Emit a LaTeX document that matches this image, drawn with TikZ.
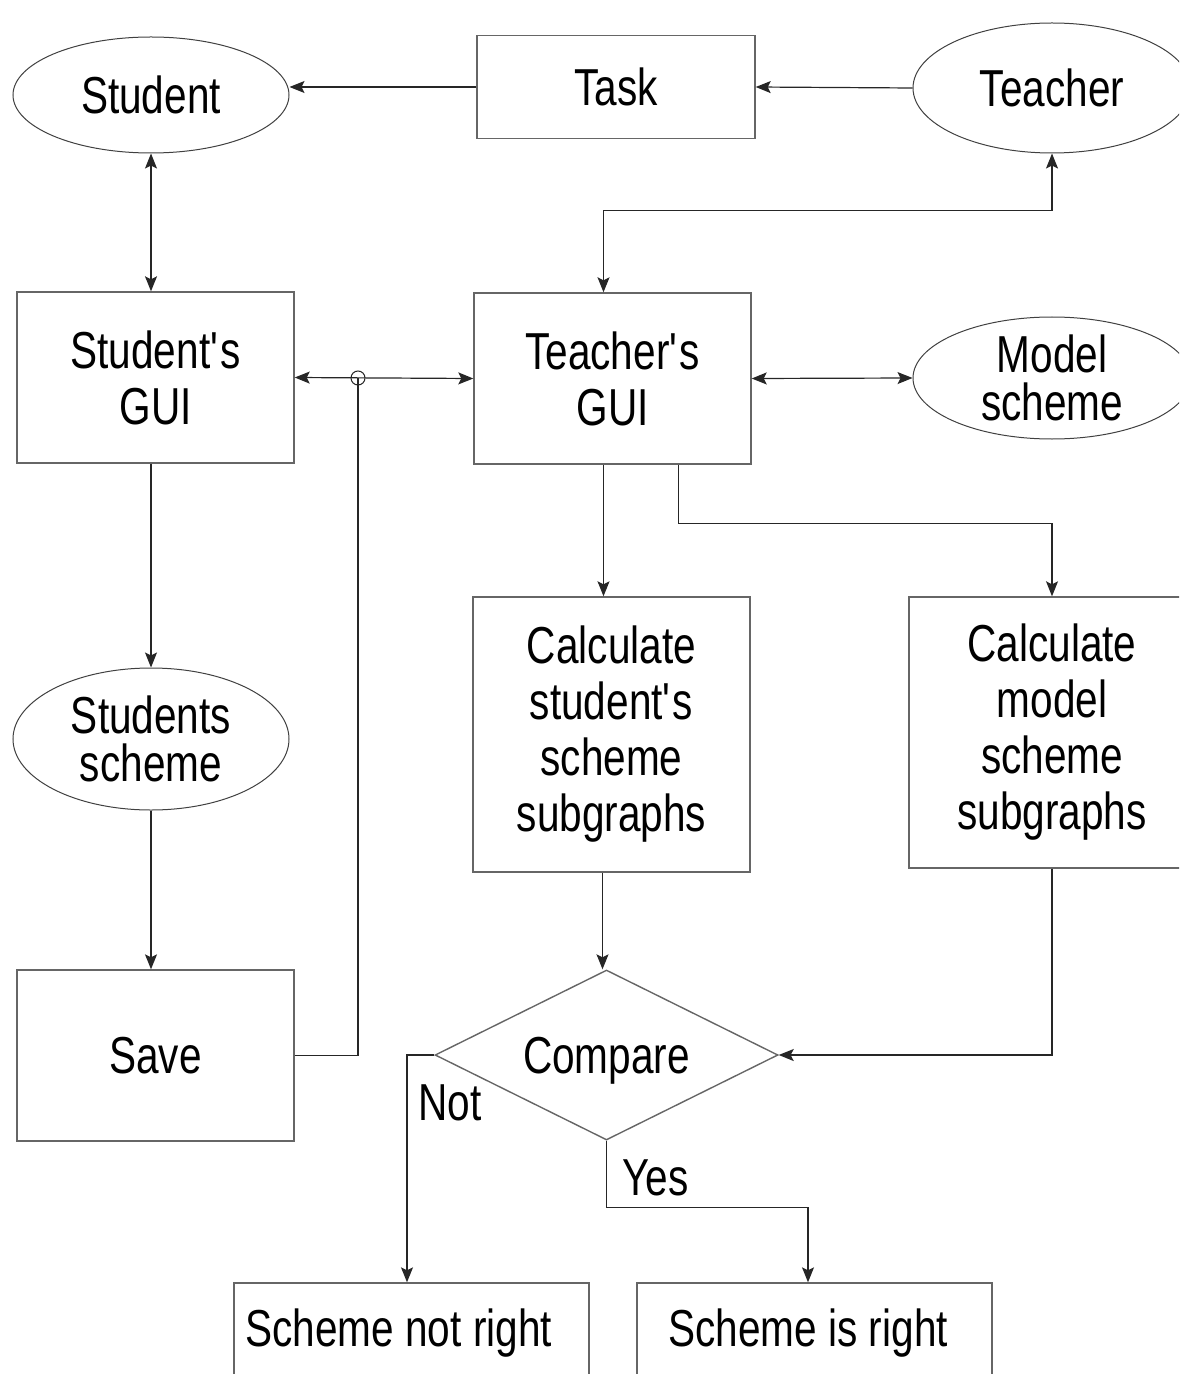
\documentclass[tikz,border=0pt]{standalone}
\usepackage{fontspec}
\setmainfont[FakeStretch=0.78]{Liberation Sans}
\usetikzlibrary{arrows.meta,shapes.geometric}

\begin{document}
\begin{tikzpicture}[x=0.5pt,y=-0.5pt,
		>={Stealth[length=7.5pt,width=6pt,inset=1.5pt]},
		every node/.style={font=\fontsize{26}{28}\selectfont, align=center, inner sep=0pt},
		box/.style={draw=black!60, line width=0.7pt},
		oval/.style={draw=black!75, ellipse, line width=0.5pt, font=\fontsize{26}{24}\selectfont},
		line/.style={draw=black!85, line width=0.6pt},
		arr/.style={line, ->},
		both/.style={line, <->}]
	
		\useasboundingbox (0,0) rectangle (1179,1374);
		\clip (0,0) rectangle (1179,1374);
	
		\node[oval, minimum width=138pt, minimum height=58pt] (stud) at (151,95) {Student};
		\node[box, minimum width=139pt, minimum height=51.5pt] (task) at (616,87) {Task};
		\node[oval, minimum width=139pt, minimum height=65pt] (teach) at (1052,88) {Teacher};
		
		\node[box, minimum width=138.5pt, minimum height=85.5pt] (sgui) at (155.5,377.5) {Student\textquotesingle s\\GUI};
		\node[box, minimum width=138.5pt, minimum height=85.5pt] (tgui) at (612.5,378.5) {Teacher\textquotesingle s\\GUI};
		\node[oval, minimum width=139pt, minimum height=61pt] (model) at (1052,378) {Model\\scheme};
		\node[circle, draw=black!85, line width=0.5pt, minimum size=7pt] (hop) at (358,378) {};
		
		\node[oval, minimum width=138pt, minimum height=71pt] (sscheme) at (151,739) {Students\\scheme};
		\node[box, minimum width=138.5pt, minimum height=85.5pt] (save) at (155.5,1055.5) {Save};
		
		\node[box, minimum width=138.5pt, minimum height=137.5pt] (calcs) at (611.5,734.5) {Calculate\\student\textquotesingle s\\scheme\\subgraphs};
		\node[box, minimum width=143pt, minimum height=135.5pt] (calcm) at (1052,732.5) {Calculate\\model\\scheme\\subgraphs};
		\node[box, diamond, aspect=2, minimum width=171.5pt, minimum height=85pt, text depth=0pt] (cmp) at (606.5,1055) {Compare};
		
		\node[box, minimum width=177.5pt, minimum height=50pt] (bad) at (411.5,1333) {};
		\node[box, minimum width=177.5pt, minimum height=50pt] (good) at (814.5,1333) {};
		\node[anchor=west] (badtxt) at (245,1333) {Scheme not right};
		\node[anchor=west] (goodtxt) at (668,1333) {Scheme is right};
		\node[anchor=west] (no) at (418,1103) {Not};
		\node[anchor=west] (yes) at (622,1178) {Yes};
	
		\draw[arr] (task.west) -- (task.west -| stud.east);
		\draw[arr] (teach.west) -- (task.east);
		\draw[both] (stud.south) -- (stud.south |- sgui.north);
		\draw[both] ([xshift=-4.5pt]tgui.north) -- ++(0,-82) -| (teach.south);
		
		\draw[both] (sgui.east) -- (tgui.west);
		\draw[both] (tgui.east) -- (model.west);
		\draw[line] (save.east) -| (hop.center);
		
		\draw[arr] (sgui.south -| sscheme.north) -- (sscheme.north);
		\draw[arr] (sscheme.south) -- (sscheme.south |- save.north);
		
		\draw[arr] ([xshift=-4.5pt]tgui.south) -- ([xshift=-4.5pt]tgui.south |- calcs.north);
		\draw[arr] ([xshift=33pt]tgui.south) -- ++(0,59) -| (calcm.north);
		\draw[arr] ([xshift=-4.5pt]calcs.south) -- ([xshift=-4.5pt]calcs.south |- cmp.north);
		\draw[arr] (calcm.south) |- (cmp.east);
		
		\draw[arr] (cmp.west) -| ([xshift=-2.25pt]bad.north);
		\draw[arr] (cmp.south) -- ++(0,67) -| ([xshift=-3.25pt]good.north);
	
	\end{tikzpicture}
\end{document}
